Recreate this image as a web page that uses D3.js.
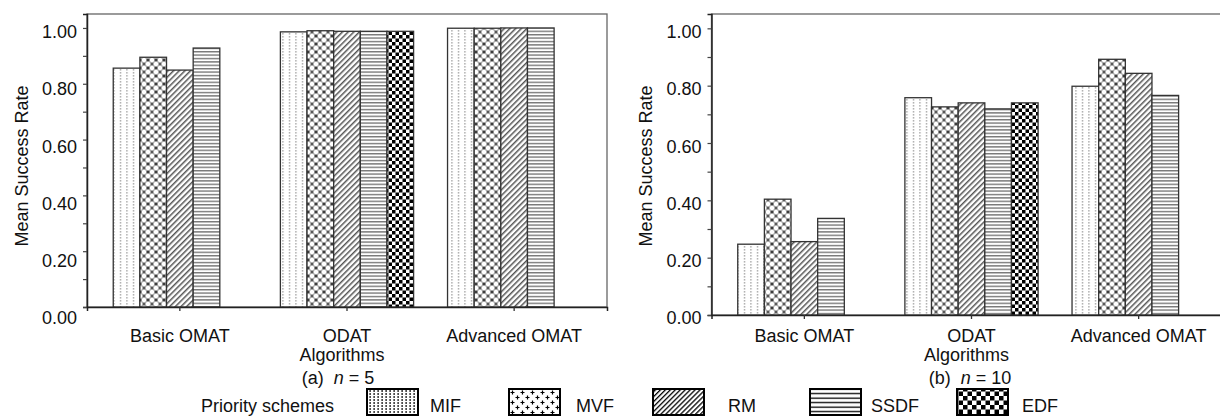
<!DOCTYPE html>
<html>
<head>
<meta charset="utf-8">
<script src="https://cdn.jsdelivr.net/npm/d3@7"></script>
<style>
  html, body { margin: 0; padding: 0; background: #fff; }
  svg { display: block; font-family: "Liberation Sans", Arial, sans-serif; }
</style>
</head>
<body>
<svg id="chart" width="1220" height="417"></svg>
<script>
// ---------------- data ----------------
const categories = ["Basic OMAT", "ODAT", "Advanced OMAT"];
const schemes = ["MIF", "MVF", "RM", "SSDF", "EDF"];

// (a) n = 5
const n5_MIF  = [0.856, 0.986, 0.999];
const n5_MVF  = [0.895, 0.990, 0.999];
const n5_RM   = [0.849, 0.988, 1.000];
const n5_SSDF = [0.928, 0.988, 1.000];
const n5_EDF  = [null,  0.988, null];

// (b) n = 10
const n10_MIF  = [0.247, 0.758, 0.798];
const n10_MVF  = [0.404, 0.726, 0.892];
const n10_RM   = [0.256, 0.740, 0.843];
const n10_SSDF = [0.337, 0.719, 0.766];
const n10_EDF  = [null,  0.740, null];

const yMinorTicks = [0, 0.1, 0.2, 0.3, 0.4, 0.5, 0.6, 0.7, 0.8, 0.9, 1.0];
const yLabelTicks = [0, 0.2, 0.4, 0.6, 0.8, 1.0];
const yTitle = "Mean Success Rate";
const xTitle = "Algorithms";
const captionA = ["(a)\u00a0\u00a0", "n", " = 5"];
const captionB = ["(b)\u00a0\u00a0", "n", " = 10"];
const legendTitle = "Priority schemes";

// ---------------- layout ----------------
const svg = d3.select("#chart");
const FONT = 18;
const defs = svg.append("defs");

function pat(id, w, h, bg, extra) {
  const p = defs.append("pattern").attr("id", id)
    .attr("patternUnits", "userSpaceOnUse").attr("width", w).attr("height", h);
  p.append("rect").attr("width", w).attr("height", h).attr("fill", bg);
  extra(p);
  return p;
}
// bar patterns
pat("p-MIF", 6.5, 3, "#fff", p => {
  p.append("rect").attr("x", 3).attr("y", 0).attr("width", 1).attr("height", 1.6).attr("fill", "#888");
});
pat("p-MVF", 8, 8, "#fff", p => {
  p.append("path").attr("d", "M0,0 L8,8 M8,0 L0,8").attr("stroke", "#aaa").attr("stroke-width", 1.3);
  p.append("path").attr("d", "M4,2.4 V5.6 M2.4,4 H5.6").attr("stroke", "#333").attr("stroke-width", 1.4);
  p.append("path").attr("d", "M0,-1.6 V1.6 M-1.6,0 H1.6 M8,-1.6 V1.6 M6.4,0 H9.6 M0,6.4 V9.6 M-1.6,8 H1.6 M8,6.4 V9.6 M6.4,8 H9.6")
    .attr("stroke", "#444").attr("stroke-width", 1.2);
});
pat("p-RM", 4, 4, "#fff", p => {
  p.append("rect").attr("x", 0).attr("y", 0).attr("width", 1.5).attr("height", 4).attr("fill", "#555");
}).attr("patternTransform", "rotate(45)");
pat("p-SSDF", 4, 3.4, "#fff", p => {
  p.append("rect").attr("x", 0).attr("y", 0).attr("width", 4).attr("height", 1.4).attr("fill", "#777");
});
pat("p-EDF", 7, 7, "#fff", p => {
  p.append("rect").attr("x", 0).attr("y", 0).attr("width", 3.5).attr("height", 3.5).attr("fill", "#000");
  p.append("rect").attr("x", 3.5).attr("y", 3.5).attr("width", 3.5).attr("height", 3.5).attr("fill", "#000");
});

// legend patterns
pat("l-MIF", 4, 3, "#fff", p => {
  p.append("rect").attr("x", 1.5).attr("y", 0).attr("width", 1.2).attr("height", 2).attr("fill", "#000");
});
pat("l-MVF", 10, 10, "#fff", p => {
  p.append("path").attr("d", "M2.5,0.5 V4.5 M0.5,2.5 H4.5 M7.5,5.5 V9.5 M5.5,7.5 H9.5")
    .attr("stroke", "#000").attr("stroke-width", 1.2);
});
pat("l-RM", 3.5, 3.5, "#fff", p => {
  p.append("rect").attr("x", 0).attr("y", 0).attr("width", 1.3).attr("height", 3.5).attr("fill", "#000");
}).attr("patternTransform", "rotate(45)");
pat("l-SSDF", 4, 4.5, "#fff", p => {
  p.append("rect").attr("x", 0).attr("y", 1.5).attr("width", 4).attr("height", 1.3).attr("fill", "#000");
});
pat("l-EDF", 9, 9, "#fff", p => {
  p.append("rect").attr("x", 0).attr("y", 0).attr("width", 4.5).attr("height", 4.5).attr("fill", "#000");
  p.append("rect").attr("x", 4.5).attr("y", 4.5).attr("width", 4.5).attr("height", 4.5).attr("fill", "#000");
});

function drawPanel(cfg) {
  const { x0, x1, top, base, series, titleX, caption, captionX } = cfg;
  const g = svg.append("g");

  const x = d3.scaleBand().domain(categories).range([x0, x1])
    .paddingInner(0.203).paddingOuter(0.157);
  const xs = d3.scaleBand().domain(schemes).range([0, x.bandwidth()]).padding(0);
  const y = d3.scaleLinear().domain([0, 1.05]).range([base, top]);
  const yLab = d3.scaleLinear().domain([0, 1]).range([318, 32]);

  g.append("rect").attr("x", x0).attr("y", top).attr("width", x1 - x0).attr("height", base - top)
    .attr("fill", "none").attr("stroke", "#666").attr("stroke-width", 1.3);

  const rows = [];
  schemes.forEach((s, si) => {
    series[si].forEach((v, ci) => {
      if (v != null) rows.push({ s, c: categories[ci], v });
    });
  });
  g.selectAll("rect.bar").data(rows).join("rect").attr("class", "bar")
    .attr("x", d => x(d.c) + xs(d.s))
    .attr("y", d => y(d.v))
    .attr("width", xs.bandwidth())
    .attr("height", d => base - y(d.v))
    .attr("fill", d => `url(#p-${d.s})`)
    .attr("stroke", "#333").attr("stroke-width", 1.3);

  const ya = g.append("g").attr("transform", `translate(${x0},0)`)
    .call(d3.axisLeft(y).tickValues(yMinorTicks).tickSize(4).tickFormat(""));
  ya.select(".domain").attr("stroke", "#222").attr("stroke-width", 1.5);
  ya.selectAll(".tick line").attr("stroke", "#444").attr("stroke-width", 1.2);

  const yl = g.append("g").attr("transform", `translate(${x0},0)`)
    .call(d3.axisLeft(yLab).tickValues(yLabelTicks).tickSize(0).tickPadding(10).tickFormat(d3.format(".2f")));
  yl.select(".domain").remove();
  yl.selectAll("text").attr("font-size", FONT).attr("fill", "#111")
    .attr("font-family", "Liberation Sans, Arial, sans-serif");

  const xa = g.append("g").attr("transform", `translate(0,${base})`)
    .call(d3.axisBottom(x).tickSize(4).tickPadding(0).tickFormat(""));
  xa.select(".domain").attr("stroke", "#222").attr("stroke-width", 1.5);
  xa.selectAll(".tick line").attr("stroke", "#333").attr("stroke-width", 1.3);
  g.selectAll("text.xl").data(categories).join("text").attr("class", "xl")
    .attr("x", d => x(d) + x.bandwidth() / 2).attr("y", 342)
    .attr("text-anchor", "middle").attr("font-size", FONT).attr("fill", "#111").text(d => d);

  g.append("text").attr("x", (x0 + x1) / 2 - 5).attr("y", 361)
    .attr("text-anchor", "middle").attr("font-size", FONT).attr("fill", "#111").text(xTitle);

  g.append("text").attr("transform", `translate(${titleX},166) rotate(-90)`)
    .attr("text-anchor", "middle").attr("dy", "0.35em")
    .attr("font-size", FONT).attr("fill", "#111").text(yTitle);

  const cap = g.append("text").attr("x", captionX).attr("y", 384)
    .attr("text-anchor", "middle").attr("font-size", FONT).attr("fill", "#111");
  cap.append("tspan").text(caption[0]);
  cap.append("tspan").attr("font-style", "italic").text(caption[1]);
  cap.append("tspan").text(caption[2]);
}

drawPanel({
  x0: 87, x1: 607, top: 14, base: 307,
  series: [n5_MIF, n5_MVF, n5_RM, n5_SSDF, n5_EDF],
  titleX: 22, caption: captionA, captionX: 338
});
drawPanel({
  x0: 711.5, x1: 1231.5, top: 14, base: 315,
  series: [n10_MIF, n10_MVF, n10_RM, n10_SSDF, n10_EDF],
  titleX: 645.5, caption: captionB, captionX: 970
});

const legendSwatchX = [367, 509, 653, 810, 957];
const legendTextX = [430, 576, 728, 871, 1022];
const lg = svg.append("g");
lg.append("text").attr("x", 201).attr("y", 412).attr("font-size", FONT).attr("fill", "#111").text(legendTitle);
schemes.forEach((s, i) => {
  lg.append("rect").attr("x", legendSwatchX[i]).attr("y", 389).attr("width", 51).attr("height", 26)
    .attr("fill", `url(#l-${s})`).attr("stroke", "#000").attr("stroke-width", 2);
  lg.append("text").attr("x", legendTextX[i]).attr("y", 412).attr("font-size", FONT).attr("fill", "#111").text(s);
});
</script>
</body>
</html>
